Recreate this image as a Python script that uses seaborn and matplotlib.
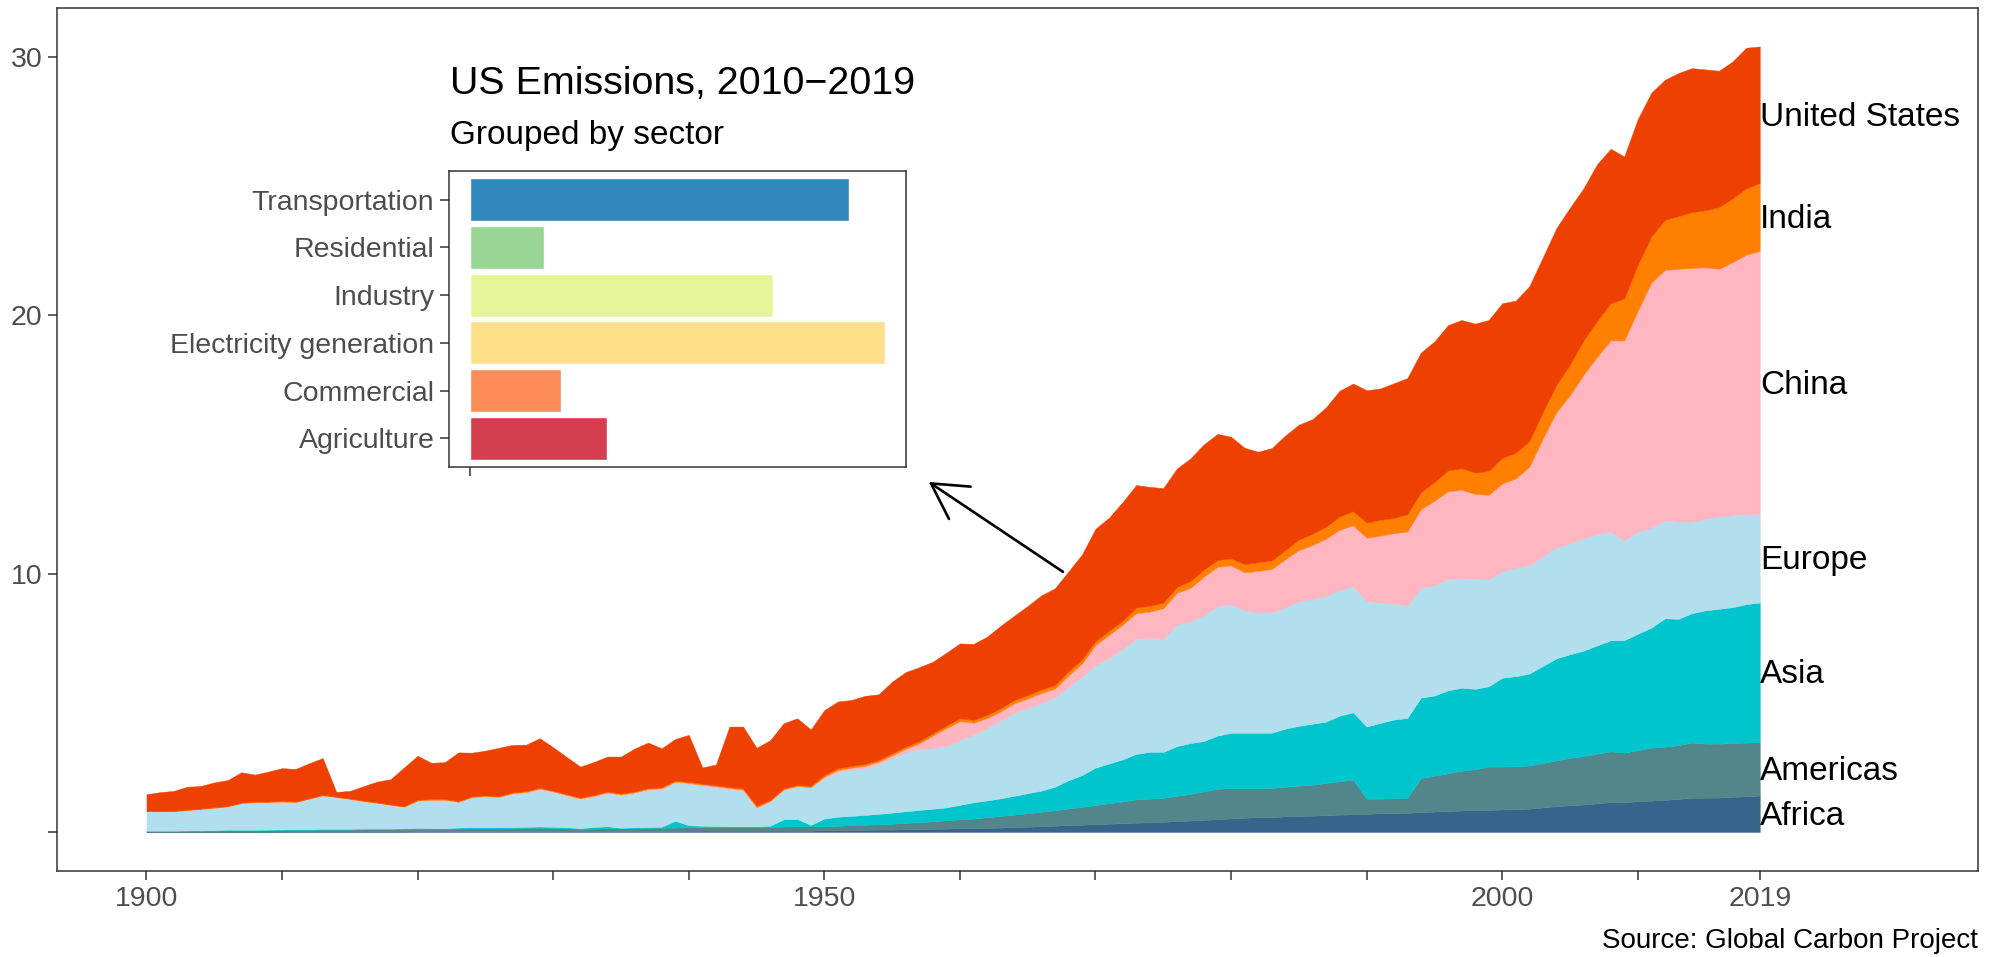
import numpy as np
import pandas as pd
import matplotlib
matplotlib.use("Agg")
import matplotlib.pyplot as plt
import seaborn as sns

# CO2 emissions by region, 1900-2019
years = np.arange(1900, 2020)

africa = [
    0.01, 0.01, 0.01, 0.01, 0.01, 0.01, 0.01, 0.01, 0.01, 0.01,
    0.02, 0.02, 0.02, 0.02, 0.02, 0.02, 0.02, 0.02, 0.02, 0.02,
    0.03, 0.03, 0.03, 0.03, 0.03, 0.03, 0.03, 0.03, 0.03, 0.03,
    0.04, 0.04, 0.04, 0.04, 0.04, 0.04, 0.04, 0.04, 0.04, 0.04,
    0.05, 0.05, 0.05, 0.05, 0.05, 0.05, 0.05, 0.05, 0.05, 0.05,
    0.07, 0.07, 0.08, 0.08, 0.09, 0.09, 0.10, 0.11, 0.12, 0.13,
    0.14, 0.15, 0.16, 0.17, 0.19, 0.20, 0.22, 0.24, 0.27, 0.28,
    0.30, 0.32, 0.34, 0.36, 0.37, 0.39, 0.42, 0.44, 0.47, 0.49,
    0.52, 0.55, 0.57, 0.58, 0.60, 0.62, 0.63, 0.65, 0.67, 0.68,
    0.70, 0.72, 0.73, 0.74, 0.77, 0.79, 0.81, 0.83, 0.84, 0.85,
    0.87, 0.88, 0.90, 0.95, 1.00, 1.03, 1.06, 1.11, 1.15, 1.14,
    1.20, 1.21, 1.24, 1.28, 1.32, 1.33, 1.33, 1.36, 1.38, 1.41,
]
americas = [
    0.03, 0.03, 0.03, 0.04, 0.04, 0.04, 0.05, 0.05, 0.05, 0.06,
    0.06, 0.06, 0.06, 0.07, 0.07, 0.07, 0.08, 0.08, 0.08, 0.09,
    0.09, 0.09, 0.09, 0.10, 0.11, 0.11, 0.11, 0.12, 0.12, 0.13,
    0.11, 0.10, 0.08, 0.09, 0.10, 0.10, 0.11, 0.12, 0.12, 0.13,
    0.13, 0.14, 0.14, 0.15, 0.15, 0.14, 0.15, 0.16, 0.17, 0.17,
    0.15, 0.17, 0.18, 0.20, 0.21, 0.23, 0.25, 0.27, 0.29, 0.32,
    0.35, 0.37, 0.41, 0.45, 0.48, 0.52, 0.56, 0.60, 0.64, 0.69,
    0.74, 0.79, 0.84, 0.90, 0.92, 0.93, 0.98, 1.03, 1.10, 1.18,
    1.18, 1.15, 1.13, 1.12, 1.15, 1.17, 1.20, 1.25, 1.29, 1.34,
    0.59, 0.57, 0.57, 0.58, 1.31, 1.39, 1.46, 1.54, 1.59, 1.68,
    1.66, 1.67, 1.67, 1.72, 1.77, 1.84, 1.87, 1.92, 1.97, 1.93,
    1.96, 2.05, 2.06, 2.08, 2.14, 2.09, 2.09, 2.08, 2.08, 2.07,
]
asia = [
    0.01, 0.01, 0.01, 0.01, 0.01, 0.02, 0.02, 0.02, 0.02, 0.02,
    0.02, 0.03, 0.03, 0.03, 0.03, 0.03, 0.03, 0.03, 0.03, 0.03,
    0.04, 0.03, 0.03, 0.04, 0.04, 0.04, 0.04, 0.04, 0.05, 0.05,
    0.05, 0.04, 0.03, 0.06, 0.08, 0.02, 0.03, 0.03, 0.04, 0.26,
    0.08, 0.05, 0.04, 0.02, 0.02, 0.03, 0.04, 0.28, 0.28, 0.05,
    0.30, 0.35, 0.36, 0.38, 0.40, 0.43, 0.45, 0.47, 0.49, 0.50,
    0.56, 0.63, 0.65, 0.68, 0.73, 0.78, 0.82, 0.91, 1.09, 1.23,
    1.45, 1.54, 1.63, 1.76, 1.81, 1.78, 1.92, 1.97, 1.95, 2.06,
    2.14, 2.14, 2.14, 2.14, 2.25, 2.32, 2.36, 2.37, 2.54, 2.61,
    2.79, 2.93, 3.05, 3.09, 3.12, 3.10, 3.21, 3.21, 3.11, 3.11,
    3.44, 3.48, 3.56, 3.76, 3.95, 4.01, 4.09, 4.19, 4.30, 4.35,
    4.51, 4.65, 4.97, 4.89, 5.01, 5.16, 5.22, 5.26, 5.36, 5.40,
]
europe = [
    0.74, 0.74, 0.74, 0.78, 0.82, 0.86, 0.90, 1.03, 1.07, 1.06,
    1.07, 1.04, 1.17, 1.29, 1.21, 1.14, 1.05, 0.98, 0.90, 0.82,
    1.04, 1.08, 1.08, 0.98, 1.15, 1.19, 1.16, 1.28, 1.32, 1.44,
    1.34, 1.22, 1.12, 1.18, 1.28, 1.26, 1.32, 1.44, 1.46, 1.48,
    1.60, 1.55, 1.50, 1.44, 1.38, 0.70, 0.94, 1.14, 1.25, 1.45,
    1.56, 1.71, 1.79, 1.81, 1.93, 2.10, 2.28, 2.36, 2.34, 2.38,
    2.51, 2.61, 2.80, 3.02, 3.20, 3.29, 3.39, 3.46, 3.62, 3.80,
    3.96, 4.08, 4.27, 4.46, 4.42, 4.38, 4.71, 4.71, 4.87, 5.01,
    4.98, 4.74, 4.66, 4.66, 4.69, 4.82, 4.83, 4.86, 4.87, 4.87,
    4.86, 4.64, 4.49, 4.35, 4.25, 4.26, 4.31, 4.25, 4.25, 4.13,
    4.12, 4.20, 4.20, 4.25, 4.30, 4.30, 4.35, 4.31, 4.21, 3.85,
    3.96, 3.86, 3.80, 3.76, 3.54, 3.55, 3.57, 3.56, 3.50, 3.42,
]
china = [
    0.01, 0.01, 0.01, 0.01, 0.01, 0.01, 0.01, 0.01, 0.01, 0.01,
    0.01, 0.01, 0.01, 0.01, 0.02, 0.02, 0.02, 0.02, 0.02, 0.02,
    0.02, 0.02, 0.02, 0.02, 0.02, 0.02, 0.02, 0.03, 0.03, 0.03,
    0.03, 0.03, 0.03, 0.03, 0.03, 0.03, 0.03, 0.03, 0.03, 0.04,
    0.04, 0.04, 0.04, 0.04, 0.04, 0.04, 0.02, 0.02, 0.03, 0.02,
    0.06, 0.10, 0.08, 0.09, 0.09, 0.12, 0.14, 0.22, 0.49, 0.69,
    0.73, 0.47, 0.39, 0.35, 0.38, 0.38, 0.39, 0.34, 0.44, 0.52,
    0.79, 0.90, 0.95, 0.99, 1.01, 1.18, 1.23, 1.30, 1.50, 1.53,
    1.50, 1.47, 1.61, 1.68, 1.87, 1.98, 2.09, 2.22, 2.33, 2.37,
    2.45, 2.61, 2.73, 2.87, 3.05, 3.28, 3.40, 3.42, 3.30, 3.28,
    3.40, 3.46, 3.81, 4.55, 5.24, 5.73, 6.33, 6.87, 7.40, 7.76,
    8.55, 9.50, 9.69, 9.79, 9.83, 9.73, 9.59, 9.80, 10.03, 10.19,
]
india = [
    0.02, 0.02, 0.02, 0.02, 0.02, 0.02, 0.02, 0.02, 0.02, 0.02,
    0.02, 0.02, 0.02, 0.02, 0.02, 0.02, 0.02, 0.02, 0.02, 0.02,
    0.03, 0.03, 0.03, 0.03, 0.03, 0.03, 0.03, 0.03, 0.03, 0.03,
    0.03, 0.03, 0.03, 0.03, 0.04, 0.04, 0.04, 0.04, 0.04, 0.04,
    0.04, 0.04, 0.04, 0.04, 0.05, 0.05, 0.04, 0.04, 0.04, 0.04,
    0.07, 0.07, 0.07, 0.07, 0.07, 0.08, 0.08, 0.09, 0.09, 0.10,
    0.11, 0.11, 0.12, 0.12, 0.13, 0.13, 0.14, 0.14, 0.16, 0.16,
    0.15, 0.16, 0.15, 0.22, 0.22, 0.22, 0.22, 0.27, 0.27, 0.26,
    0.27, 0.32, 0.33, 0.33, 0.35, 0.41, 0.43, 0.47, 0.51, 0.55,
    0.59, 0.61, 0.59, 0.67, 0.65, 0.73, 0.81, 0.83, 0.82, 0.93,
    0.99, 0.99, 0.99, 1.03, 1.05, 1.19, 1.33, 1.38, 1.44, 1.62,
    1.78, 1.78, 1.94, 2.04, 2.16, 2.21, 2.39, 2.47, 2.57, 2.63,
]
usa = [
    0.64, 0.72, 0.77, 0.88, 0.87, 0.96, 1.00, 1.17, 1.04, 1.16,
    1.27, 1.26, 1.35, 1.42, 0.18, 0.29, 0.55, 0.80, 0.97, 1.50,
    1.70, 1.40, 1.42, 1.88, 1.69, 1.73, 1.87, 1.84, 1.80, 1.92,
    1.68, 1.44, 1.20, 1.28, 1.35, 1.43, 1.66, 1.76, 1.51, 1.61,
    1.82, 0.63, 0.80, 2.34, 2.39, 2.25, 2.31, 2.52, 2.58, 2.19,
    2.51, 2.58, 2.55, 2.64, 2.54, 2.77, 2.89, 2.86, 2.77, 2.82,
    2.90, 2.94, 3.03, 3.19, 3.26, 3.45, 3.64, 3.74, 3.86, 4.06,
    4.35, 4.38, 4.59, 4.74, 4.61, 4.43, 4.59, 4.74, 4.85, 4.88,
    4.71, 4.50, 4.28, 4.35, 4.44, 4.45, 4.44, 4.62, 4.87, 4.94,
    5.12, 5.09, 5.21, 5.27, 5.41, 5.44, 5.62, 5.74, 5.77, 5.84,
    5.99, 5.89, 6.00, 5.99, 6.07, 6.07, 5.89, 6.07, 5.98, 5.50,
    5.64, 5.57, 5.42, 5.54, 5.57, 5.45, 5.28, 5.30, 5.44, 5.29,
]

regions = ["Africa", "Americas", "Asia", "Europe", "China", "India", "United States"]
region_colors = ["#36648B", "#53868B", "#00C5CD", "#B2DFEE", "#FFB6C1", "#FF7F00", "#EE4000"]

# inset: US emissions share by sector
sectors = ["Transportation", "Residential", "Industry", "Electricity generation", "Commercial", "Agriculture"]
sector_share = [27.1, 5.3, 21.7, 29.7, 6.5, 9.8]
sector_colors = ["#3288BD", "#99D594", "#E6F598", "#FEE08B", "#FC8D59", "#D53E4F"]

x_breaks = [1900, 1910, 1920, 1930, 1940, 1950, 1960, 1970, 1980, 1990, 2000, 2010, 2019]
x_labels = ["1900", "", "", "", "", "1950", "", "", "", "", "2000", "", "2019"]
y_breaks = [0, 10, 20, 30]
y_labels = ["", "10", "20", "30"]

sns.set_theme(style="ticks")
plt.rcParams["font.family"] = ["Liberation Sans", "DejaVu Sans"]

frame_col = "#333333"
tick_txt = "#4d4d4d"

fig = plt.figure(figsize=(19.93, 9.57), dpi=100)
ax = fig.add_axes([0.0286, 0.0899, 0.9639, 0.9018])

stack = np.vstack([africa, americas, asia, europe, china, india, usa])
ax.stackplot(years, stack, colors=region_colors, linewidth=0.3, edgecolor="face")

ax.set_xlim(1893.4, 2035.1)
ax.set_ylim(-1.51, 31.9)
ax.set_xticks(x_breaks)
ax.set_xticklabels(x_labels)
ax.set_yticks(y_breaks)
ax.set_yticklabels(y_labels)
ax.set_xlabel("")
ax.set_ylabel("")
ax.tick_params(direction="out", length=6.5, width=1.1, color=frame_col,
               labelcolor=tick_txt, labelsize=20.5, pad=4)
for sp in ax.spines.values():
    sp.set_visible(True)
    sp.set_color(frame_col)
    sp.set_linewidth(1.1)

# region labels at the middle of each band in the last year
top = np.cumsum(stack[:, -1])
bottom = top - stack[:, -1]
for name, lo, hi in zip(regions, bottom, top):
    ax.text(years[-1], (lo + hi) / 2 - 0.1, name, fontsize=24, ha="left", va="center", color="black")

# arrow from the data toward the inset
ax.annotate("", xy=(1957.7, 13.55), xytext=(1967.6, 10.07),
            arrowprops=dict(arrowstyle="->,head_length=1.25,head_width=0.7",
                            lw=1.9, color="black", mutation_scale=20,
                            shrinkA=0, shrinkB=0))

# inset bar chart
ins = fig.add_axes([0.2253, 0.5120, 0.2293, 0.3093])
sector_df = pd.DataFrame({"sector": sectors, "share": sector_share})
sns.barplot(data=sector_df, y="sector", x="share", hue="sector", palette=sector_colors,
            saturation=1, width=0.9, legend=False, ax=ins)
ins.set_facecolor("white")
ins.set_xlim(-1.485, 31.19)
ins.set_ylim(5.6, -0.6)
ins.set_xticks([0])
ins.set_xticklabels([""])
ins.set_xlabel("")
ins.set_ylabel("")
ins.tick_params(direction="out", length=6.5, width=1.1, color=frame_col,
                labelcolor=tick_txt, labelsize=20.5, pad=4)
for sp in ins.spines.values():
    sp.set_visible(True)
    sp.set_color(frame_col)
    sp.set_linewidth(1.1)

fig.text(0.2258, 0.9122, "US Emissions, 2010\u22122019", fontsize=28.4, ha="left", va="center", color="black")
fig.text(0.2258, 0.8589, "Grouped by sector", fontsize=24, ha="left", va="center", color="black")
fig.text(0.9925, 0.0167, "Source: Global Carbon Project", fontsize=20, ha="right", va="center", color="black")

fig.savefig("out.png", dpi=100)
